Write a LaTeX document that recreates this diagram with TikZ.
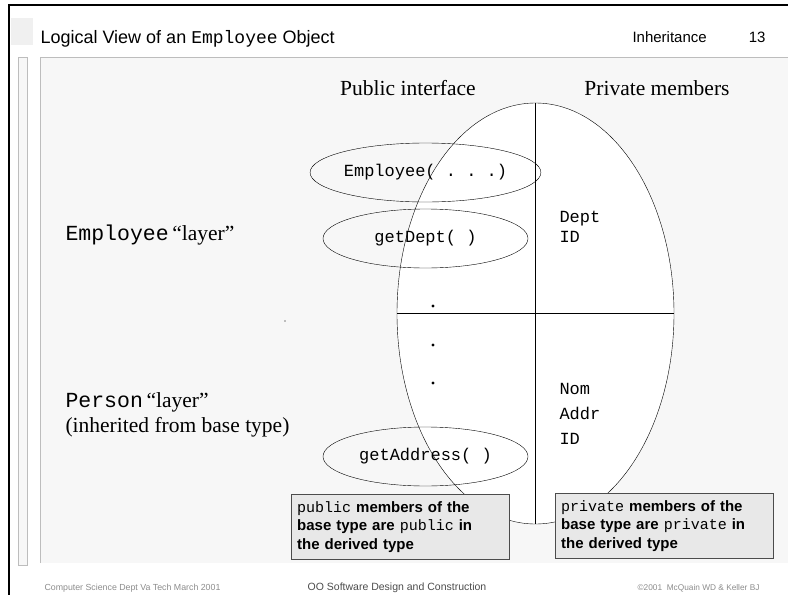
\documentclass[tikz,border=0pt]{standalone}
\usepackage{fontspec}
\setmainfont{Liberation Serif}
\setsansfont{Liberation Sans}
\setmonofont{Liberation Mono}
\usetikzlibrary{shapes.geometric}

\definecolor{panelgray}{HTML}{F7F7F7}
\definecolor{edgegray}{HTML}{BDBDBD}
\definecolor{notegray}{HTML}{E8E8E8}
\newcommand{\fsz}[2]{\fontsize{#1}{#2}\selectfont}

\begin{document}
\begin{tikzpicture}[
	x=1pt, y=-1pt,
	oval/.style={
		draw,
		ellipse,
		minimum width=205pt,
		minimum height=59pt,
		inner sep=0pt,
		font=\ttfamily\fsz{17}{20}
	},
	heading/.style={anchor=base, font=\fsz{21.5}{25}},
	layer/.style={anchor=base west, align=left, font=\fsz{21.5}{25}},
	member/.style={anchor=base west, align=left, font=\ttfamily\fsz{17}{20}},
	note/.style={
		draw=black!70,
		fill=notegray,
		anchor=north west,
		minimum width=218pt,
		minimum height=65pt,
		text width=206pt,
		inner xsep=6pt,
		align=left,
		font=\sffamily\bfseries\fsz{15}{18.5}
	},
	footer/.style={anchor=base, font=\sffamily\fsz{8.8}{10}, text=black!45}
	]
	\useasboundingbox (0,0) rectangle (788,595);
	
	% slide frame
	\fill[panelgray] (40,57) rectangle (788,563);
	\draw[edgegray] (40,563) -- (40,57) -- (788,57);
	\filldraw[fill=black!3, draw=edgegray] (18,57) rectangle (27,565);
	\fill[black!6] (11,18) rectangle (33,45);
	\draw[line width=2pt] (9,595) -- (9,5) -- (788,5);
	
	% header
	\node[anchor=base west, font=\sffamily\fsz{18}{22}] (title) at (37,43)
		{Logical View of an \texttt{Employee} Object};
	\node[anchor=base west, font=\sffamily\fsz{15}{17}] (chapter) at (629,42) {Inheritance};
	\node[anchor=base east, font=\sffamily\fsz{15}{17}] (page) at (769,42) {13};
	
	% object
	\node[draw, ellipse, fill=white, minimum width=277pt, minimum height=421pt,
		inner sep=0pt] (obj) at (535.5,313.5) {};
	\draw (obj.north) -- (obj.south);
	\draw (obj.west) -- (obj.east);
	
	\node[heading] (pub) at (408,95) {Public interface};
	\node[heading] (priv) at (657,95) {Private members};
	
	\node[oval] (ctor) at (425.5,172.5) {Employee( . . .)};
	\node[oval] (getdept) at (425.5,238.5) {getDept( )};
	\node[oval] (getaddr) at (425.5,456.5) {getAddress( )};
	
	\foreach \y in {306,345,383}
		\fill (433,\y) circle (1.6);
	\fill (285,321) circle (0.6);
	
	% base anchor of a multi-line node sits on its last line
	\node[member] (dept) at (556,242) {Dept\\ID};
	\node[member, font=\ttfamily\fsz{17}{25}] (base) at (556,444) {Nom\\Addr\\ID};
	
	\node[layer] (emplayer) at (62,240) {\texttt{Employee}\,“layer”};
	\node[layer] (perslayer) at (62,432) {\texttt{Person}\,“layer”\\(inherited from base type)};
	
	% callouts
	\node[note] (pubnote) at (291,494)
		{\texttt{\mdseries public} members of the\\base type are \texttt{\mdseries public} in\\the derived type};
	\node[note] (privnote) at (555,493)
		{\texttt{\mdseries private} members of the\\base type are \texttt{\mdseries private} in\\the derived type};
	
	% footer
	\node[footer, anchor=base west] (school) at (41,590) {Computer Science Dept Va Tech March 2001};
	\node[footer, font=\sffamily\fsz{10.5}{12}, text=black!70] (course) at (397,590)
		{OO Software Design and Construction};
	\node[footer, font=\sffamily\fsz{8.3}{10}, anchor=base east] (copy) at (763,590)
		{©2001\ \ McQuain WD \& Keller BJ};
\end{tikzpicture}
\end{document}
